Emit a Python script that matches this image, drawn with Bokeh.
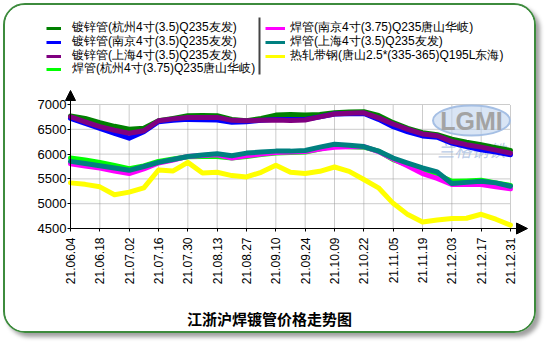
import math
from bokeh.plotting import figure
from bokeh.models import (Legend, LegendItem, Arrow, NormalHead, FixedTicker,
                          Range1d, Label)
from bokeh.embed import file_html
from bokeh.resources import INLINE
from bokeh.core.properties import value

# ---- data (weekly readings, x = week index) ----
x_idx = list(range(31))
tick_pos = [0, 2, 4, 6, 8, 10, 12, 14, 16, 18, 20, 22, 24, 26, 28, 30]
tick_labels = ["21.06.04", "21.06.18", "21.07.02", "21.07.16", "21.07.30",
               "21.08.13", "21.08.27", "21.09.10", "21.09.24", "21.10.09",
               "21.10.22", "21.11.05", "21.11.19", "21.12.03", "21.12.17",
               "21.12.31"]
y_ticks = [4500, 5000, 5500, 6000, 6500, 7000]

names = ["镀锌管(杭州4寸(3.5)Q235友发)",
         "镀锌管(南京4寸(3.5)Q235友发)",
         "镀锌管(上海4寸(3.5)Q235友发)",
         "焊管(杭州4寸(3.75)Q235唐山华岐)",
         "焊管(南京4寸(3.75)Q235唐山华岐)",
         "焊管(上海4寸(3.5)Q235友发)",
         "热轧带钢(唐山2.5*(335-365)Q195L东海)"]

galv_hz = [6767, 6720, 6633, 6560, 6500, 6520, 6673, 6720, 6773, 6780, 6773, 6700, 6673, 6720, 6787, 6800,
           6790, 6800, 6833, 6850, 6853, 6780, 6633, 6520, 6433, 6390, 6300, 6240, 6187, 6130, 6073]
galv_nj = [6720, 6620, 6520, 6420, 6320, 6450, 6653, 6680, 6700, 6695, 6687, 6640, 6653, 6680, 6700, 6700,
           6700, 6750, 6807, 6815, 6820, 6700, 6553, 6450, 6367, 6340, 6220, 6150, 6087, 6040, 5987]
galv_sh = [6753, 6650, 6553, 6480, 6420, 6470, 6673, 6710, 6740, 6740, 6740, 6680, 6673, 6680, 6687, 6675,
           6687, 6750, 6807, 6825, 6833, 6730, 6607, 6500, 6407, 6370, 6253, 6190, 6140, 6080, 6020]
weld_hz = [5920, 5880, 5833, 5770, 5707, 5760, 5853, 5900, 5947, 5950, 5953, 5920, 5953, 5990, 6020, 6033,
           6040, 6100, 6167, 6150, 6140, 6060, 5887, 5780, 5633, 5590, 5453, 5460, 5473, 5420, 5367]
weld_nj = [5807, 5760, 5720, 5660, 5607, 5700, 5820, 5880, 5953, 5970, 5987, 5920, 5967, 6000, 6033, 6040,
           6053, 6100, 6140, 6150, 6153, 6050, 5900, 5760, 5607, 5510, 5387, 5387, 5387, 5340, 5300]
weld_sh = [5853, 5810, 5767, 5720, 5673, 5750, 5833, 5890, 5953, 5980, 6007, 5967, 6020, 6040, 6060, 6060,
           6073, 6140, 6200, 6180, 6153, 6060, 5920, 5820, 5720, 5640, 5407, 5430, 5453, 5420, 5353]
hot_strip = [5420, 5390, 5340, 5180, 5233, 5320, 5680, 5660, 5833, 5620, 5633, 5567, 5540, 5633, 5773, 5633,
             5607, 5653, 5740, 5653, 5487, 5320, 5007, 4780, 4633, 4673, 4700, 4707, 4787, 4687, 4567]

series = [galv_hz, galv_nj, galv_sh, weld_hz, weld_nj, weld_sh, hot_strip]
colors = ["#008000", "#0000FF", "#800080", "#00FF00", "#FF00FF", "#008080", "#FFFF00"]

title_text = "江浙沪焊镀管价格走势图"

# ---- layout helpers (page pixel -> data) ----
W, H = 533, 330          # canvas size
OX, OY = 5, 5            # canvas origin on the page (margin + border)
AX_L, AX_R = 70, 510     # page x of first / last x tick
AX_T, AX_B = 104, 228    # page y of 7000 / 4500


def dx(px):
    return (px - AX_L) * (tick_pos[-1] - tick_pos[0]) / (AX_R - AX_L) + tick_pos[0]


def dy(py):
    return y_ticks[-1] - (py - AX_T) * (y_ticks[-1] - y_ticks[0]) / (AX_B - AX_T)


# ---- figure ----
p = figure(width=W, height=H, output_backend="svg", toolbar_location=None,
           x_range=Range1d(dx(OX), dx(OX + W)), y_range=Range1d(dy(OY + H), dy(OY)),
           min_border=0, min_border_left=0, min_border_right=0, min_border_top=0,
           min_border_bottom=0, background_fill_color="white", border_fill_color="white")
p.outline_line_color = None
p.styles = {"border": "2px solid #3d8b3d", "border-radius": "22px", "overflow": "hidden",
            "margin": "3px 0 0 3px", "box-shadow": "4px 4px 4px #a0a0a0"}
p.xgrid.visible = False
p.ygrid.visible = False

# axes at fixed locations
p.xaxis.fixed_location = y_ticks[0]
p.xaxis.bounds = (tick_pos[0], dx(518))
p.xaxis.ticker = FixedTicker(ticks=tick_pos)
p.xaxis.major_label_overrides = {t: l for t, l in zip(tick_pos, tick_labels)}
p.xaxis.major_label_orientation = math.pi / 2
p.xaxis.major_label_text_font = "Liberation Sans"
p.xaxis.major_label_text_font_size = "12px"
p.xaxis.major_label_text_color = "black"
p.xaxis.major_tick_out = 3
p.xaxis.major_tick_in = 0
p.xaxis.minor_tick_line_color = None
p.xaxis.major_label_standoff = 6
p.xaxis.axis_line_color = "black"
p.xaxis.major_tick_line_color = "black"

p.yaxis.fixed_location = tick_pos[0]
p.yaxis.bounds = (y_ticks[0], dy(96))
p.yaxis.ticker = FixedTicker(ticks=y_ticks)
p.yaxis.major_label_text_font = "Liberation Sans"
p.yaxis.major_label_text_font_size = "13px"
p.yaxis.major_label_text_color = "black"
p.yaxis.major_tick_out = 3
p.yaxis.major_tick_in = 0
p.yaxis.minor_tick_line_color = None
p.yaxis.major_label_standoff = 1
p.yaxis.axis_line_color = "black"
p.yaxis.major_tick_line_color = "black"

# dotted grid (within the plot area only)
p.segment(x0=tick_pos[0], x1=tick_pos[-1], y0=y_ticks[1:], y1=y_ticks[1:],
          line_color="#999999", line_dash="1 1", line_width=1)
p.segment(x0=tick_pos[1:], x1=tick_pos[1:], y0=y_ticks[0], y1=y_ticks[-1],
          line_color="#999999", line_dash="1 1", line_width=1)

# watermark
p.ellipse(x=dx(471), y=dy(120), width=dx(548) - dx(471), height=dy(104) - dy(134),
          fill_color="#b9cfec", fill_alpha=0.55, line_color="#a5bfe4", line_width=2)
p.text(x=[dx(471)], y=[dy(120)], text=["LGMI"], text_align="center", text_baseline="middle",
       text_font=value("Liberation Sans"), text_font_size="25px", text_font_style="bold",
       text_color="#a3a3a3")
p.text(x=[dx(471)], y=[dy(149)], text=["兰格钢铁"], text_align="center", text_baseline="middle",
       text_font=value("Noto Sans CJK SC"), text_font_size="17px", text_font_style="italic",
       text_color="#a8bedf", text_alpha=0.8)

for ys, c in zip(series, colors):
    p.line(x_idx, ys, line_color=c, line_width=5, line_join="round", line_cap="round")

# legend: thin sample lines (renderers hold one off-screen point, so they draw nothing)
samples = [p.line(x=[dx(-200)], y=[dy(-200)], line_color=c, line_width=3) for c in colors]
legend_kw = dict(label_text_font="Liberation Sans", label_text_font_size="12px",
                 label_text_color="black", glyph_height=14, label_height=14,
                 spacing=0, padding=0, margin=0, border_line_color=None,
                 background_fill_alpha=0)
ITEM_H = 16.7
row_y = [28, 42, 56, 69, 28, 42, 56]
col_x = [46, 46, 46, 46, 265, 265, 265]
for i in range(7):
    first_col = i < 4
    leg = Legend(items=[LegendItem(label=names[i], renderers=[samples[i]])],
                 location=(col_x[i] - OX, OY + H - (row_y[i] + ITEM_H / 2)),
                 glyph_width=15 if first_col else 20,
                 label_standoff=11 if first_col else 5, **legend_kw)
    p.add_layout(leg)

# separator between legend columns
p.segment(x0=[dx(259)], x1=[dx(259)], y0=[dy(17)], y1=[dy(74)], line_color="#444444", line_width=2)

# axis arrow heads
p.add_layout(Arrow(end=NormalHead(size=11, fill_color="black", line_color="black"),
                   x_start=dx(512), y_start=y_ticks[0], x_end=dx(527), y_end=y_ticks[0],
                   line_color="black", line_width=1))
p.add_layout(Arrow(end=NormalHead(size=10, fill_color="black", line_color="black"),
                   x_start=tick_pos[0], y_start=dy(102), x_end=tick_pos[0], y_end=dy(90),
                   line_color="black", line_width=1))

# chart title
p.add_layout(Label(x=dx(269), y=dy(318), text=title_text, text_align="center",
                   text_baseline="middle", text_font="Noto Sans CJK SC", text_font_size="15px",
                   text_font_style="bold", text_color="black"))

open("out.html", "w").write(file_html(p, INLINE))
